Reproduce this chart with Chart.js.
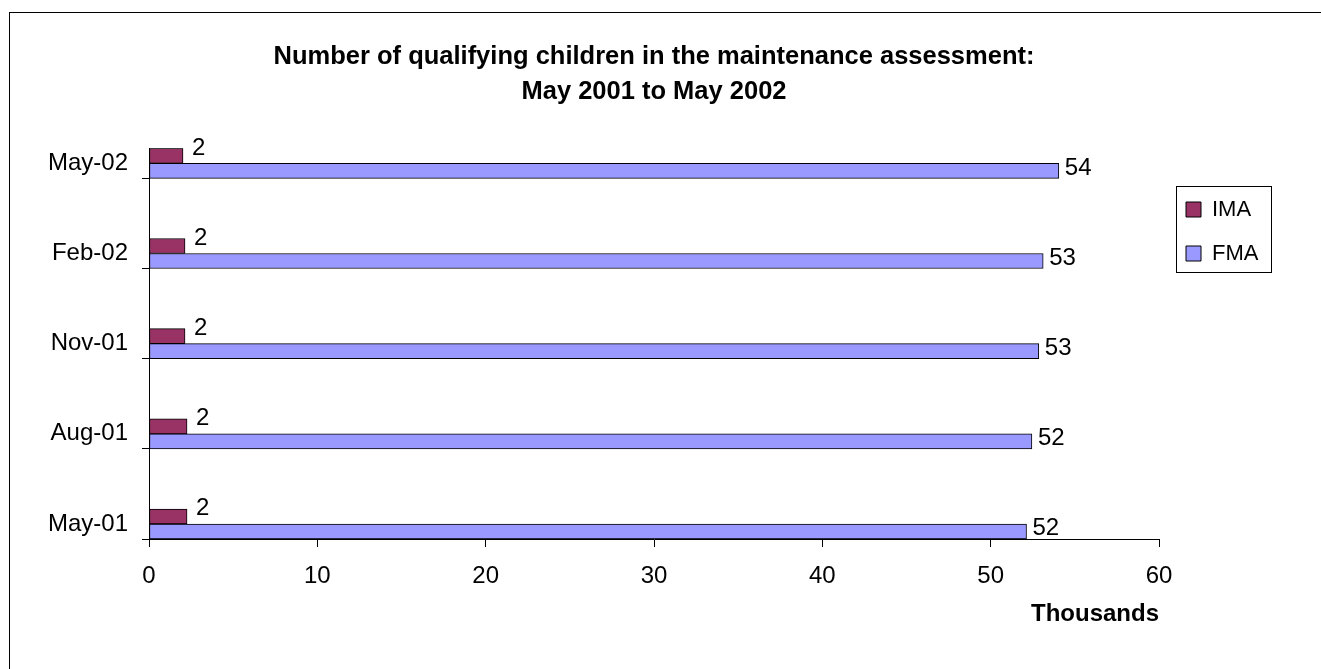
<!DOCTYPE html>
<html>
<head>
<meta charset="utf-8">
<script src="https://cdn.jsdelivr.net/npm/chart.js@4.4.1/dist/chart.umd.min.js"></script>
<style>
  html, body { margin: 0; padding: 0; background: #fff; overflow: hidden; }
  #wrap { position: relative; width: 1321px; height: 669px; overflow: hidden; }
  #frame { position: absolute; left: 9px; top: 12px; width: 1400px; height: 700px; border: 1px solid #000; box-sizing: border-box; }
  #chart { position: absolute; left: 0; top: 0; }
</style>
</head>
<body>
<div id="wrap">
  <div id="frame"></div>
  <canvas id="chart" width="1321" height="669"></canvas>
</div>
<script>
const categories = ["May-01", "Aug-01", "Nov-01", "Feb-02", "May-02"];
const monthIndex = [0, 3, 6, 9, 12];   // months since May 2001 (the original uses a date axis)
const imaValues = [2.26, 2.26, 2.14, 2.14, 2.02];
const fmaValues = [52.13, 52.45, 52.86, 53.12, 54.05];
const seriesNames = ["IMA", "FMA"];
const titleLines = ["Number of qualifying children in the maintenance assessment:", "May 2001 to May 2002"];

const FONT = "'Liberation Sans', Arial, sans-serif";
Chart.defaults.font.family = FONT;
Chart.defaults.color = "#000";

// each bar sits in its own month slot, like Excel's date axis
const points = vals => vals.map((v, i) => ({ x: v, y: monthIndex[i] + 0.5 }));

// put title and legend where Excel had them, and draw the legend frame
const boxLayout = {
  id: "boxLayout",
  afterLayout(chart) {
    const t = chart.titleBlock;
    t.left = 9; t.right = 1299;
    const lg = chart.legend;
    lg.left = 1164; lg.top = 176.5; lg.right = 1290; lg.bottom = 300;
    lg.width = lg.right - lg.left; lg.height = lg.bottom - lg.top;
  },
  afterDraw(chart) {
    const ctx = chart.ctx;
    ctx.save();
    ctx.strokeStyle = "#000";
    ctx.lineWidth = 1;
    ctx.strokeRect(1176.5, 186.5, 95, 86);
    ctx.restore();
  }
};

// value labels at the bar ends
const valueLabels = {
  id: "valueLabels",
  afterDatasetsDraw(chart) {
    const gap = [9, 6], shift = [-8, -3];
    const ctx = chart.ctx;
    ctx.save();
    ctx.font = "24px " + FONT;
    ctx.fillStyle = "#000";
    ctx.textAlign = "left";
    ctx.textBaseline = "middle";
    chart.data.datasets.forEach((ds, di) => {
      chart.getDatasetMeta(di).data.forEach((bar, i) => {
        ctx.fillText(String(Math.round(ds.data[i].x)), bar.x + gap[di], bar.y + shift[di]);
      });
    });
    ctx.restore();
  }
};

new Chart(document.getElementById("chart"), {
  type: "bar",
  data: {
    datasets: [
      { label: seriesNames[0], data: points(imaValues), backgroundColor: "#993366", borderColor: "#000", borderWidth: 1, borderSkipped: false, barThickness: 15 },
      { label: seriesNames[1], data: points(fmaValues), backgroundColor: "#9999FF", borderColor: "#000", borderWidth: 1, borderSkipped: false, barThickness: 15 }
    ]
  },
  options: {
    indexAxis: "y",
    responsive: false,
    animation: false,
    events: [],
    devicePixelRatio: 1,
    layout: { padding: { left: 0, right: 162, top: 0, bottom: 0 } },
    plugins: {
      title: {
        display: true,
        text: titleLines,
        font: { size: 25.5, weight: "bold", lineHeight: 1.37 },
        color: "#000",
        padding: { top: 39.5, bottom: 39 }
      },
      legend: {
        position: "chartArea",
        align: "start",
        labels: { boxWidth: 15, boxHeight: 15, padding: 22, font: { size: 22 }, color: "#000" }
      },
      tooltip: { enabled: false }
    },
    scales: {
      x: {
        type: "linear",
        min: 0,
        max: 60,
        ticks: { stepSize: 10, font: { size: 24 }, color: "#000", padding: 15 },
        grid: { drawOnChartArea: false, tickLength: 8, color: "#000" },
        border: { color: "#000" },
        title: { display: true, text: "Thousands", align: "end", font: { size: 24, weight: "bold" }, color: "#000", padding: { top: 0, bottom: 40 } },
        afterFit: s => { s.height = 130; }
      },
      y: {
        type: "linear",
        min: 0,
        max: 13,
        offset: false,
        afterBuildTicks: s => { s.ticks = monthIndex.map(v => ({ value: v })); },
        ticks: { callback: v => categories[monthIndex.indexOf(v)], font: { size: 24 }, color: "#000", padding: 14, labelOffset: -15, autoSkip: false },
        grid: { offset: false, drawOnChartArea: false, tickLength: 7, color: "#000" },
        border: { color: "#000" },
        afterFit: s => { s.width = 149; }
      }
    }
  },
  plugins: [boxLayout, valueLabels]
});
</script>
</body>
</html>
